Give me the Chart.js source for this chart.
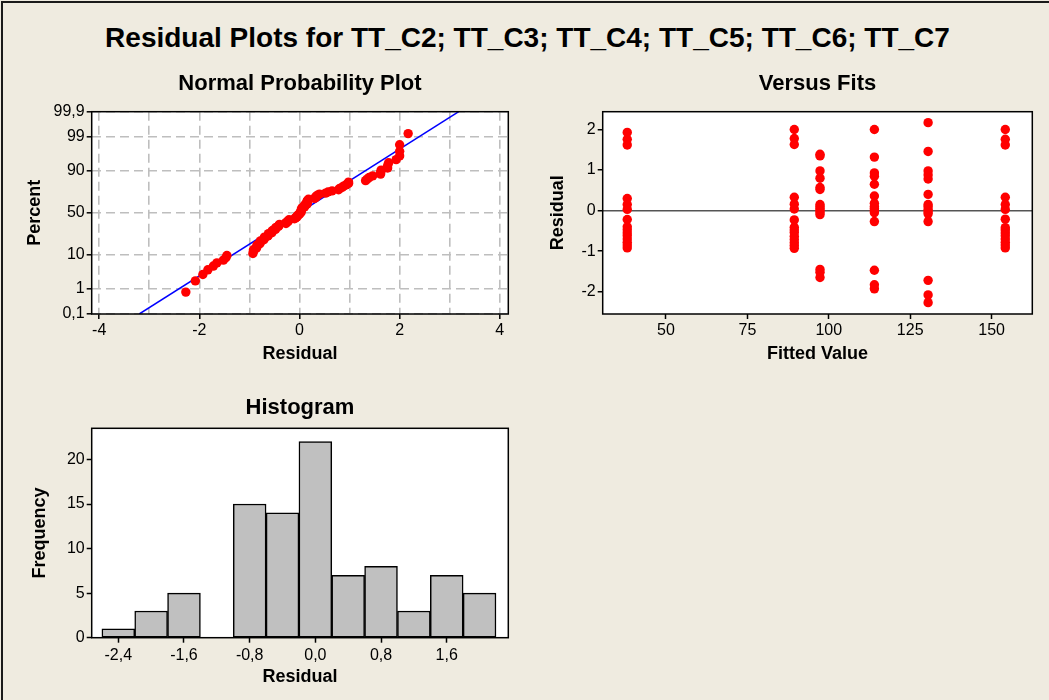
<!DOCTYPE html>
<html lang="en">
<head>
<meta charset="utf-8">
<title>Residual Plots</title>
<style>
  body { margin: 0; background: #EFEBE0; width: 1049px; height: 700px; overflow: hidden; position: relative; font-family: "Liberation Sans", Arial, sans-serif; }
  #frame { position: absolute; left: 1px; top: 1px; width: 1048px; height: 699px; border-top: 2px solid #1a1a1a; border-left: 2px solid #1a1a1a; box-sizing: border-box; }
  #mainTitle { position: absolute; left: 3px; top: 21px; width: 1049px; text-align: center; font-weight: bold; font-size: 28px; line-height: 34px; color: #000; }
  canvas { position: absolute; }
</style>
</head>
<body>
<div id="frame"></div>
<div id="mainTitle">Residual Plots for TT_C2; TT_C3; TT_C4; TT_C5; TT_C6; TT_C7</div>
<canvas id="npp" width="525" height="310" style="left:0px; top:60px;"></canvas>
<canvas id="fits" width="524" height="310" style="left:525px; top:60px;"></canvas>
<canvas id="hist" width="525" height="330" style="left:0px; top:370px;"></canvas>

<script src="https://cdn.jsdelivr.net/npm/chart.js"></script>
<script>

const fittedValues = [38.1, 89.4, 97.3, 114.0, 130.5, 154.2];
const residualsC2 = [1.93, 1.76, 1.62, 0.30, 0.15, 0.03, -0.22, -0.40, -0.47, -0.55, -0.62, -0.70, -0.78, -0.85, -0.92];
const residualsC3 = [2.00, 1.78, 1.63, 0.33, 0.16, 0.04, -0.23, -0.41, -0.48, -0.54, -0.63, -0.71, -0.79, -0.86, -0.93];
const residualsC4 = [1.39, 1.35, 0.98, 0.80, 0.57, 0.52, 0.15, 0.10, 0.05, 0.00, -0.05, -0.10, -1.45, -1.52, -1.65];
const residualsC5 = [2.00, 1.32, 0.93, 0.85, 0.65, 0.36, 0.18, 0.10, 0.05, 0.00, -0.05, -0.27, -1.47, -1.83, -1.93];
const residualsC6 = [2.17, 1.46, 0.98, 0.88, 0.78, 0.40, 0.15, 0.10, 0.03, -0.03, -0.08, -0.27, -1.72, -2.08, -2.27];
const residualsC7 = [2.00, 1.76, 1.62, 0.33, 0.15, 0.03, -0.21, -0.42, -0.48, -0.55, -0.62, -0.70, -0.78, -0.85, -0.92];
const residualGroups = [residualsC2, residualsC3, residualsC4, residualsC5, residualsC6, residualsC7];

// fitted normal line of the probability plot (two ends)
const fitLineResidual = [-3.2, 3.18];
const fitLinePercent = [0.1, 99.9];

// histogram
const binCenters = [-2.4, -2.0, -1.6, -1.2, -0.8, -0.4, 0.0, 0.4, 0.8, 1.2, 1.6, 2.0];
const binCounts = [1, 3, 5, 0, 15, 14, 22, 7, 8, 3, 7, 5];

// ticks
const percentTicks = [0.1, 1, 10, 50, 90, 99, 99.9];
const nppResidualTicks = [-4, -3, -2, -1, 0, 1, 2, 3, 4];
const fitsXTicks = [50, 75, 100, 125, 150];
const fitsYTicks = [-2, -1, 0, 1, 2];
const histXTicks = [-2.4, -1.6, -0.8, 0.0, 0.8, 1.6];
const histYTicks = [0, 5, 10, 15, 20];


// inverse normal cdf (Acklam)
function probit(p) {
    const a = [-3.969683028665376e+01, 2.209460984245205e+02, -2.759285104469687e+02, 1.383577518672690e+02, -3.066479806614716e+01, 2.506628277459239e+00];
    const b = [-5.447609879822406e+01, 1.615858368580409e+02, -1.556989798598866e+02, 6.680131188771972e+01, -1.328068155288572e+01];
    const c = [-7.784894002430293e-03, -3.223964580411365e-01, -2.400758277161838e+00, -2.549732539343734e+00, 4.374664141464968e+00, 2.938163982698783e+00];
    const d = [7.784695709041462e-03, 3.224671290700398e-01, 2.445134137142996e+00, 3.754408661907416e+00];
    const pl = 0.02425;
    let q, r;
    if (p < pl) {
        q = Math.sqrt(-2 * Math.log(p));
        return (((((c[0]*q+c[1])*q+c[2])*q+c[3])*q+c[4])*q+c[5]) / ((((d[0]*q+d[1])*q+d[2])*q+d[3])*q+1);
    }
    if (p > 1 - pl) {
        q = Math.sqrt(-2 * Math.log(1 - p));
        return -(((((c[0]*q+c[1])*q+c[2])*q+c[3])*q+c[4])*q+c[5]) / ((((d[0]*q+d[1])*q+d[2])*q+d[3])*q+1);
    }
    q = p - 0.5;
    r = q * q;
    return (((((a[0]*r+a[1])*r+a[2])*r+a[3])*r+a[4])*r+a[5])*q / (((((b[0]*r+b[1])*r+b[2])*r+b[3])*r+b[4])*r+1);
}

// normal probability axis (percent values placed on a z scale)
class ProbabilityScale extends Chart.Scale {
    determineDataLimits() {
        this.min = this.options.min;
        this.max = this.options.max;
    }
    buildTicks() {
        return percentTicks.map(v => ({value: v}));
    }
    configure() {
        super.configure();
        this._zStart = probit(this.min / 100);
        this._zEnd = probit(this.max / 100);
    }
    getPixelForValue(value) {
        const z = probit(value / 100);
        return this.getPixelForDecimal((z - this._zStart) / (this._zEnd - this._zStart));
    }
    getValueForPixel(pixel) {
        return this.min + (this.max - this.min) * this.getDecimalForPixel(pixel);
    }
}
ProbabilityScale.id = 'probability';
ProbabilityScale.defaults = {};
Chart.register(ProbabilityScale);

Chart.defaults.font.family = '"Liberation Sans", Arial, sans-serif';
Chart.defaults.color = '#000';
Chart.defaults.animation = false;

const comma = v => String(v).replace('.', ',');

const plotBox = {
    id: 'plotBox',
    beforeDraw(chart) {
        const a = chart.chartArea;
        const ctx = chart.ctx;
        ctx.save();
        ctx.fillStyle = '#FFFFFF';
        ctx.fillRect(a.left, a.top, a.right - a.left, a.bottom - a.top);
        ctx.restore();
    },
    afterDraw(chart) {
        const a = chart.chartArea;
        const ctx = chart.ctx;
        ctx.save();
        ctx.strokeStyle = '#000';
        ctx.lineWidth = 1.5;
        ctx.strokeRect(a.left, a.top, a.right - a.left, a.bottom - a.top);
        ctx.restore();
    }
};

const tickFont = {size: 16};
const axisTitleFont = {size: 18, weight: 'bold'};
const plotTitleFont = {size: 22, weight: 'bold'};


// ---- Normal probability plot
var allResiduals = [].concat(...residualGroups).sort((p, q) => p - q);
var n = allResiduals.length;
var nppPoints = allResiduals.map((r, i) => ({x: r, y: 100 * (i + 1 - 0.3) / (n + 0.4)}));

new Chart(document.getElementById('npp'), {
    type: 'scatter',
    data: {
        datasets: [{
            data: nppPoints,
            pointRadius: 4.7,
            pointBackgroundColor: '#FF0000',
            pointBorderWidth: 0
        }, {
            data: fitLineResidual.map((r, i) => ({x: r, y: fitLinePercent[i]})),
            showLine: true,
            pointRadius: 0,
            borderColor: '#0000FF',
            borderWidth: 1.5
        }]
    },
    options: {
        responsive: false,
        layout: {padding: {left: 0, right: 16.7, top: 0, bottom: 0}},
        plugins: {
            legend: {display: false},
            tooltip: {enabled: false},
            title: {display: true, text: 'Normal Probability Plot', font: plotTitleFont, fullSize: false, padding: {top: 10.3, bottom: 15}}
        },
        scales: {
            x: {
                type: 'linear', min: -4.15, max: 4.17,
                afterBuildTicks: s => { s.ticks = nppResidualTicks.map(v => ({value: v})); },
                afterFit: s => { s.height = 56; },
                ticks: {font: tickFont, padding: 2, autoSkip: false, maxRotation: 0, callback: v => (v % 2 === 0 ? String(v) : '')},
                grid: {color: '#BEBEBE', lineWidth: 1.6, tickLength: 5, tickWidth: 1.5, tickBorderDash: [],
                       tickColor: c => (c.tick && c.tick.value % 2 === 0 ? '#000' : 'rgba(0,0,0,0)')},
                border: {display: false, dash: [9, 5]},
                title: {display: true, text: 'Residual', font: axisTitleFont, padding: {top: 0, bottom: 5.2}}
            },
            y: {
                type: 'probability', min: 0.1, max: 99.9,
                afterFit: s => { s.width = 91.7; },
                ticks: {font: tickFont, padding: 2, autoSkip: false, callback: v => comma(v)},
                grid: {color: '#BEBEBE', lineWidth: 1.6, tickLength: 5, tickWidth: 1.5, tickColor: '#000', tickBorderDash: []},
                border: {display: false, dash: [9, 5]},
                title: {display: true, text: 'Percent', font: axisTitleFont, padding: {top: 24.2, bottom: 0}}
            }
        }
    },
    plugins: [plotBox]
});


// ---- Versus fits
var fitsPoints = [];
residualGroups.forEach((group, g) => {
    group.forEach(r => fitsPoints.push({x: fittedValues[g], y: r}));
});

new Chart(document.getElementById('fits'), {
    type: 'scatter',
    data: {
        datasets: [{
            data: fitsPoints,
            pointRadius: 4.7,
            pointBackgroundColor: '#FF0000',
            pointBorderWidth: 0
        }]
    },
    options: {
        responsive: false,
        layout: {padding: {left: 0, right: 16.7, top: 0, bottom: 0}},
        plugins: {
            legend: {display: false},
            tooltip: {enabled: false},
            title: {display: true, text: 'Versus Fits', font: plotTitleFont, fullSize: false, padding: {top: 10.3, bottom: 15}}
        },
        scales: {
            x: {
                type: 'linear', min: 30.56, max: 162.5,
                afterBuildTicks: s => { s.ticks = fitsXTicks.map(v => ({value: v})); },
                afterFit: s => { s.height = 56; },
                ticks: {font: tickFont, padding: 2, autoSkip: false, maxRotation: 0},
                grid: {drawOnChartArea: false, tickLength: 5, tickWidth: 1.5, tickColor: '#000'},
                border: {display: false},
                title: {display: true, text: 'Fitted Value', font: axisTitleFont, padding: {top: 0, bottom: 5.2}}
            },
            y: {
                type: 'linear', min: -2.55, max: 2.44,
                afterBuildTicks: s => { s.ticks = fitsYTicks.map(v => ({value: v})); },
                afterFit: s => { s.width = 77.7; },
                ticks: {font: tickFont, padding: 2, autoSkip: false},
                grid: {lineWidth: 1.5, tickLength: 5, tickWidth: 1.5, tickColor: '#000',
                       color: c => (c.tick && c.tick.value === 0 ? '#555555' : 'rgba(0,0,0,0)')},
                border: {display: false},
                title: {display: true, text: 'Residual', font: axisTitleFont, padding: {top: 22.2, bottom: 0}}
            }
        }
    },
    plugins: [plotBox]
});


// ---- Histogram
new Chart(document.getElementById('hist'), {
    type: 'bar',
    data: {
        datasets: [{
            data: binCenters.map((c, i) => ({x: c, y: binCounts[i]})),
            backgroundColor: '#C0C0C0',
            borderColor: '#000',
            borderWidth: 1.5,
            borderSkipped: false,
            barPercentage: 1,
            categoryPercentage: 1
        }]
    },
    options: {
        responsive: false,
        layout: {padding: {left: 0, right: 16.7, top: 0, bottom: 0}},
        plugins: {
            legend: {display: false},
            tooltip: {enabled: false},
            title: {display: true, text: 'Histogram', font: plotTitleFont, fullSize: false, padding: {top: 24.3, bottom: 7.6}}
        },
        scales: {
            x: {
                type: 'linear', min: -2.724, max: 2.35, offset: false,
                afterBuildTicks: s => { s.ticks = histXTicks.map(v => ({value: v})); },
                afterFit: s => { s.height = 62.3; },
                ticks: {font: tickFont, padding: 3.3, autoSkip: false, maxRotation: 0, callback: v => v.toFixed(1).replace('.', ',')},
                grid: {drawOnChartArea: false, offset: false, tickLength: 5, tickWidth: 1.5, tickColor: '#000'},
                border: {display: false},
                title: {display: true, text: 'Residual', font: axisTitleFont, padding: {top: 0, bottom: 12.2}}
            },
            y: {
                type: 'linear', min: 0, max: 23.5,
                afterBuildTicks: s => { s.ticks = histYTicks.map(v => ({value: v})); },
                afterFit: s => { s.width = 91.7; },
                ticks: {font: tickFont, padding: 2, autoSkip: false},
                grid: {drawOnChartArea: false, tickLength: 5, tickWidth: 1.5, tickColor: '#000'},
                border: {display: false},
                title: {display: true, text: 'Frequency', font: axisTitleFont, padding: {top: 29.2, bottom: 0}}
            }
        }
    },
    plugins: [plotBox]
});

</script>
</body>
</html>
